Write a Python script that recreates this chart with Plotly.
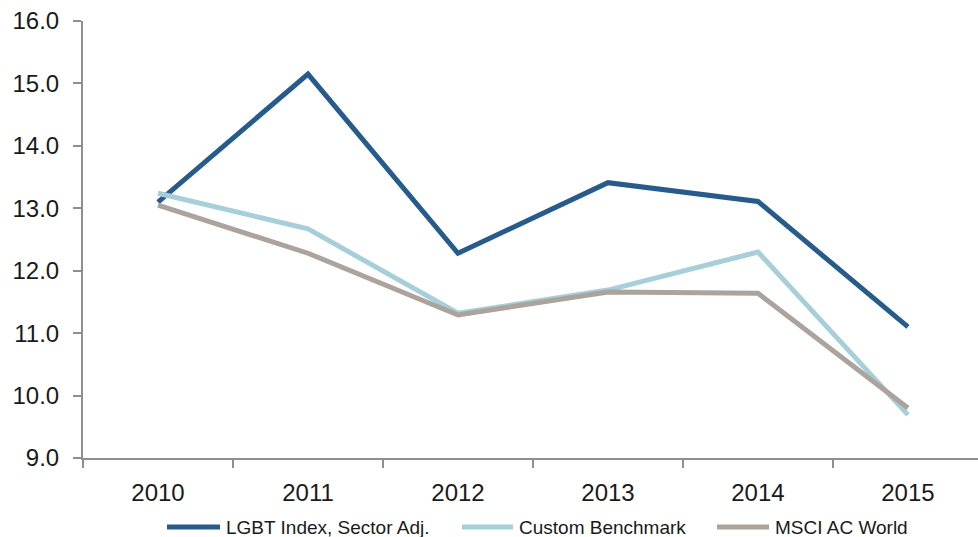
import plotly.graph_objects as go

years = ["2010", "2011", "2012", "2013", "2014", "2015"]
lgbt_index = [13.10, 15.15, 12.28, 13.41, 13.11, 11.10]
custom_benchmark = [13.24, 12.67, 11.32, 11.69, 12.30, 9.69]
msci_world = [13.05, 12.28, 11.29, 11.66, 11.64, 9.80]

FONT = "Liberation Sans, Arial, Helvetica, sans-serif"
AXIS_GREY = "#8f8f8f"
TEXT = "#1a1a1a"

# plot box in pixels (for the hand-placed legend)
L, T, W, H = 83, 21, 895, 437

fig = go.Figure()
series = [
    ("LGBT Index, Sector Adj.", lgbt_index, "#265b8b"),
    ("Custom Benchmark", custom_benchmark, "#a7cfda"),
    ("MSCI AC World", msci_world, "#aba39c"),
]
for name, vals, color in series:
    fig.add_trace(go.Scatter(
        x=years, y=vals, name=name, mode="lines",
        line=dict(color=color, width=5), showlegend=False,
    ))

# legend drawn by hand: line start, line end, text start (px)
legend_pos = [(167, 220, 224), (462, 513, 517), (717, 769, 773)]
legend_y = 527
yp = (T + H - legend_y) / H
for (x0, x1, xt), (name, _, color) in zip(legend_pos, series):
    fig.add_shape(type="line", xref="paper", yref="paper",
                  x0=(x0 - L) / W, x1=(x1 - L) / W, y0=yp, y1=yp,
                  line=dict(color=color, width=5))
    fig.add_annotation(xref="paper", yref="paper", x=(xt - L) / W, y=yp,
                       xanchor="left", yanchor="middle", showarrow=False,
                       text=name, font=dict(size=19, color=TEXT, family=FONT))

fig.update_xaxes(
    type="category", range=[-0.5, 5.467],
    showline=True, linecolor=AXIS_GREY, linewidth=2,
    ticks="outside", tickson="boundaries", ticklen=8, tickcolor=AXIS_GREY, tickwidth=2,
    showgrid=False, zeroline=False, automargin=False,
    tickfont=dict(size=24, color=TEXT, family=FONT),
    ticklabelstandoff=12,
)
fig.update_yaxes(
    range=[9, 16], dtick=1, tickformat=".1f",
    showline=True, linecolor=AXIS_GREY, linewidth=2,
    ticks="outside", ticklen=8, tickcolor=AXIS_GREY, tickwidth=2,
    showgrid=False, zeroline=False, automargin=False,
    tickfont=dict(size=24, color=TEXT, family=FONT),
    ticklabelstandoff=9,
)

fig.update_layout(
    width=978, height=537,
    margin=dict(l=L, r=978 - L - W, t=T, b=537 - T - H, autoexpand=False),
    plot_bgcolor="white", paper_bgcolor="white",
    font=dict(family=FONT, color=TEXT),
    showlegend=False,
)

# drop the browser's default 8px body margin so the chart sits at 0,0
fig.write_html("out.html", config={"displayModeBar": False},
               post_script="document.body.style.margin='0';")
